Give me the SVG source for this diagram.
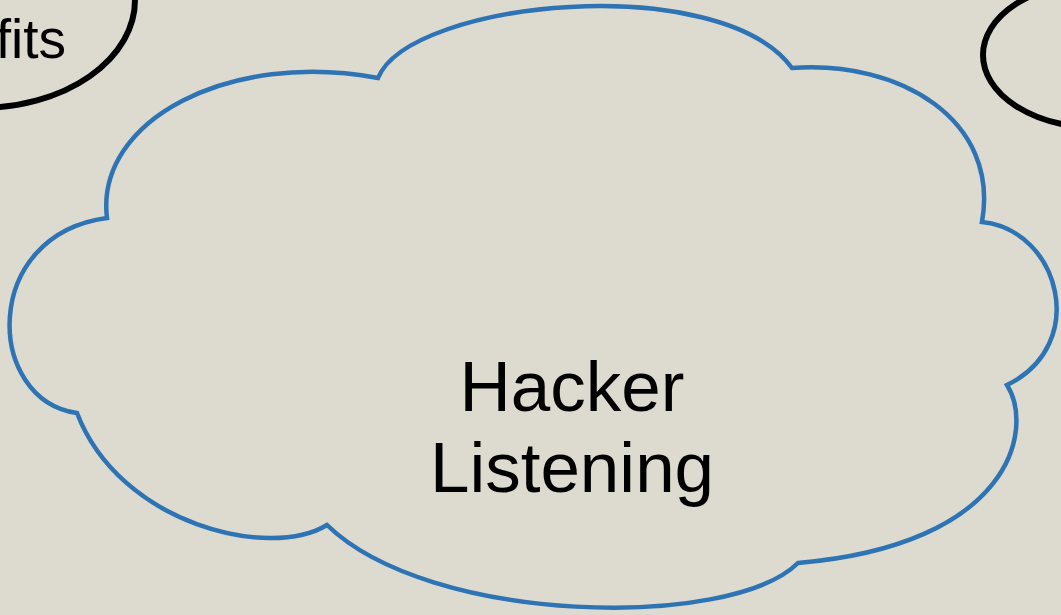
<svg xmlns="http://www.w3.org/2000/svg" width="1061" height="615" viewBox="0 0 1061 615">
  <style>
    .bg { fill: #dddbd0; }
    .oval { fill: none; stroke: #000000; stroke-width: 6; }
    .cloud { fill: none; stroke: #2e74b4; stroke-width: 4.5; stroke-linejoin: miter; stroke-miterlimit: 20; }
    .label { font-family: "Liberation Sans", Arial, sans-serif; fill: #000000; }
  </style>
  <rect class="bg" x="0" y="0" width="1061" height="615"/>
  <g id="node-benefits">
    <ellipse class="oval" cx="-20" cy="0" rx="155" ry="108"/>
    <text class="label" x="66" y="58" font-size="55" text-anchor="end">fits</text>
  </g>
  <g id="node-topright">
    <ellipse class="oval" cx="1095" cy="55" rx="112" ry="72"/>
  </g>
  <g id="node-hacker">
    <path class="cloud" d="M378,78 C410,0 720,-30 792,68 C900,60 1000,120 982,222 C1060,230 1090,345 1007,385 C1035,430 1010,545 798,563 C730,630 430,625 327,525 C270,560 120,525 77,413 C-15,400 -20,235 107,218 C95,120 230,50 378,78 Z"/>
    <text class="label" x="572" y="411" font-size="71" text-anchor="middle">Hacker</text>
    <text class="label" x="572" y="492" font-size="71" text-anchor="middle">Listening</text>
  </g>
  <g id="connectors"/>
</svg>
